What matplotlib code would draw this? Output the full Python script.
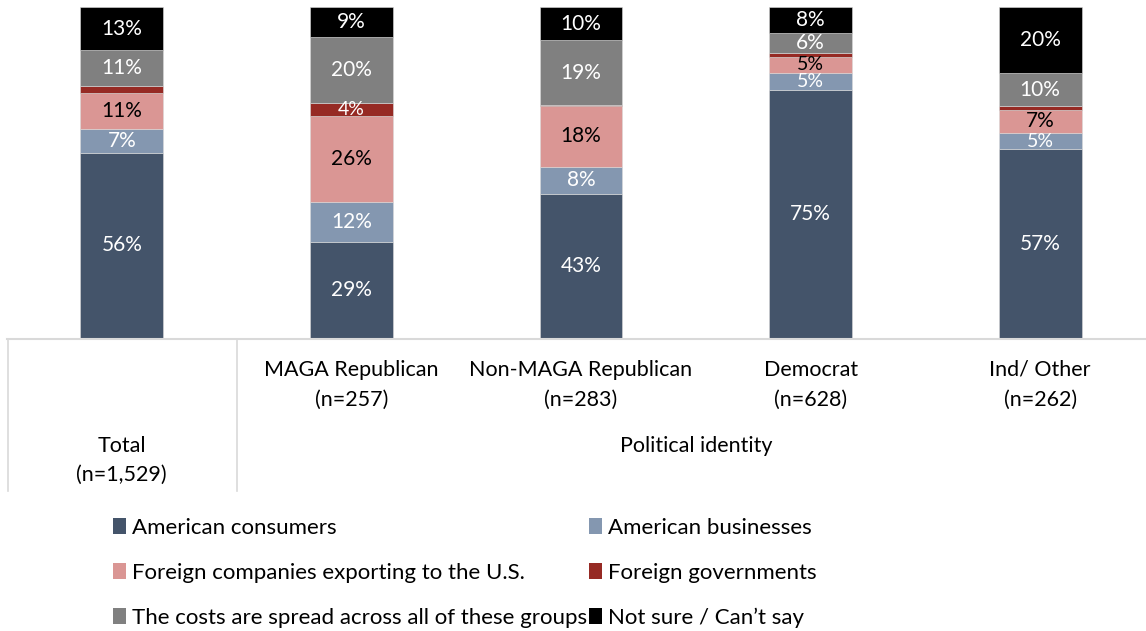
import matplotlib
matplotlib.use('Agg')
import matplotlib.pyplot as plt
from matplotlib.patches import Patch
from matplotlib.transforms import blended_transform_factory

plt.rcParams['font.family'] = ['Lato', 'DejaVu Sans']

groups = ['Total', 'MAGA Republican', 'Non-MAGA Republican', 'Democrat', 'Ind/ Other']
sample_n = ['1,529', '257', '283', '628', '262']

series = ['American consumers', 'American businesses',
          'Foreign companies exporting to the U.S.', 'Foreign governments',
          'The costs are spread across all of these groups', 'Not sure / Can\u2019t say']

consumers = [56, 29, 43.4, 75, 57]
businesses = [7, 12, 8.4, 5, 5]
foreign_cos = [11, 26, 18.4, 5, 7]
foreign_gov = [2, 4, 0.3, 1, 1]
spread = [11, 20, 19.4, 6, 10]
not_sure = [13, 9, 10.1, 8, 20]

values = [consumers, businesses, foreign_cos, foreign_gov, spread, not_sure]
colors = ['#44546A', '#8497B0', '#DA9694', '#962A24', '#808080', '#000000']
text_colors = ['white', 'white', 'black', 'white', 'white', 'white']

W, H = 1146, 631
fig = plt.figure(figsize=(W / 100, H / 100), dpi=100)

# plot area in pixels: x 7..1155, y 7..338
ax = fig.add_axes([7 / W, 1 - 338 / H, 1148 / W, 331 / H])
ax.set_xlim(-0.5, 4.5)
ax.set_ylim(0, 100)
ax.axis('off')

x = range(len(groups))
bottom = [0] * len(groups)
for vals, col, tcol in zip(values, colors, text_colors):
    ax.bar(x, vals, bottom=bottom, width=0.36, color=col, edgecolor='#d9d9d9', linewidth=0.4)
    for i, v in enumerate(vals):
        if v >= 3.5:
            # small segments get a slightly smaller label so they don't collide
            size = 15 if v >= 6 else 14
            ax.text(i, bottom[i] + v / 2, '%d%%' % round(v), ha='center', va='center',
                    color=tcol, fontsize=size)
    bottom = [b + v for b, v in zip(bottom, vals)]

# category table under the bars
def fy(py):
    return 1 - py / H

trans = blended_transform_factory(ax.transData, fig.transFigure)
line_col = '#d9d9d9'
fig.add_artist(plt.Line2D([7 / W, 1], [fy(339), fy(339)], color=line_col, lw=1.5))
fig.add_artist(plt.Line2D([8 / W, 8 / W], [fy(339), fy(491)], color=line_col, lw=1.2))
fig.add_artist(plt.Line2D([237 / W, 237 / W], [fy(339), fy(491)], color=line_col, lw=1.2))

fs = 15.5
for i, (g, n) in enumerate(zip(groups, sample_n)):
    if i == 0:
        y1, y2 = 446, 475
    else:
        y1, y2 = 370, 400
    ax.text(i, fy(y1), g, transform=trans, ha='center', va='center', fontsize=fs)
    ax.text(i, fy(y2), '(n=%s)' % n, transform=trans, ha='center', va='center', fontsize=fs)
fig.text(696 / W, fy(446), 'Political identity', ha='center', va='center', fontsize=fs)

handles = [Patch(facecolor=c, label=s) for c, s in zip(colors, series)]
order = [0, 2, 4, 1, 3, 5]
fig.legend([handles[k] for k in order], [series[k] for k in order],
           loc='upper left', bbox_to_anchor=(104 / W, fy(509)), ncol=2, frameon=False,
           fontsize=16, handlelength=0.6, handleheight=0.7, handletextpad=0.25,
           labelspacing=1.12, columnspacing=0.1, borderaxespad=0)

fig.savefig('out.png', dpi=100)
